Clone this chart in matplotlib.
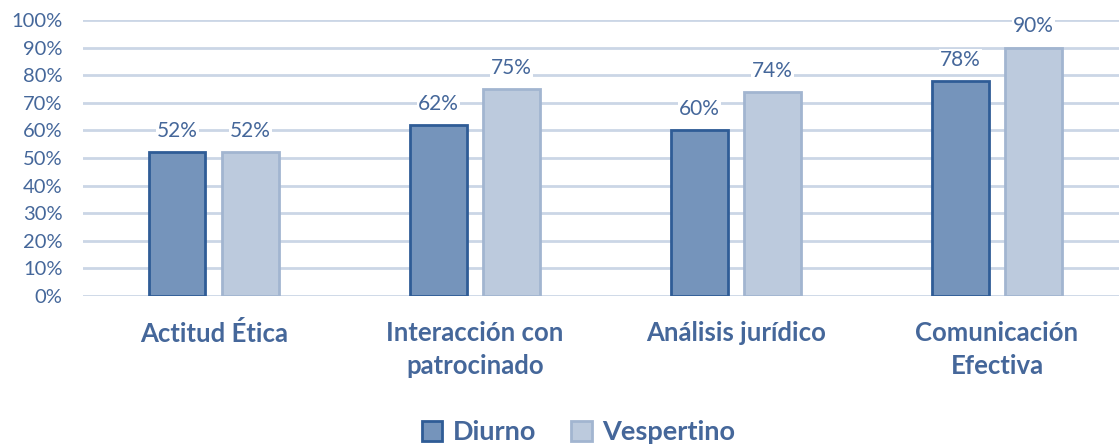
import matplotlib

matplotlib.use("Agg")

import matplotlib.pyplot as plt
import numpy as np
from matplotlib.patches import Patch
from matplotlib.ticker import FuncFormatter

categorias = ["Actitud Ética", "Interacción con\npatrocinado", "Análisis jurídico", "Comunicación\nEfectiva"]
diurno = [52, 62, 60, 78]
vespertino = [52, 75, 74, 90]
y_ticks = list(range(0, 101, 10))

TEXT_COLOR = "#45679A"
GRID_COLOR = "#CBD6E6"
DIURNO_FILL = "#7594BB"
DIURNO_EDGE = "#2F5C96"
VESP_FILL = "#BCCADD"
VESP_EDGE = "#A2B5D0"

plt.rcParams["font.family"] = ["Lato", "DejaVu Sans"]

fig = plt.figure(figsize=(11.19, 4.46), dpi=100)
fig.patch.set_facecolor("white")
ax = fig.add_axes([0.0746, 0.3363, 0.933, 0.619])

x = np.arange(len(categorias))
bar_width = 0.215
offset = 0.14

bars_d = ax.bar(x - offset, diurno, width=bar_width, color=DIURNO_FILL,
                edgecolor=DIURNO_EDGE, linewidth=2, zorder=3)
bars_v = ax.bar(x + offset, vespertino, width=bar_width, color=VESP_FILL,
                edgecolor=VESP_EDGE, linewidth=2, zorder=3)

for bars, values in ((bars_d, diurno), (bars_v, vespertino)):
    for bar, value in zip(bars, values):
        ax.annotate(
            f"{value}%",
            (bar.get_x() + bar.get_width() / 2, value),
            textcoords="offset points",
            xytext=(0, 8),
            ha="center",
            va="bottom",
            fontsize=15,
            color=TEXT_COLOR,
            zorder=4,
            bbox=dict(boxstyle="square,pad=0.05", facecolor="white", edgecolor="none"),
        )

ax.set_xlim(-0.5, len(categorias) - 0.5)
ax.set_ylim(0, 100)
ax.set_yticks(y_ticks)
ax.yaxis.set_major_formatter(FuncFormatter(lambda value, _: f"{value:.0f}%"))
ax.grid(axis="y", color=GRID_COLOR, linewidth=2, zorder=0)
ax.set_axisbelow(True)
for spine in ax.spines.values():
    spine.set_visible(False)
ax.tick_params(axis="y", length=0, pad=15, labelsize=14.5, labelcolor=TEXT_COLOR)
ax.tick_params(axis="x", length=0, pad=18)
ax.set_xticks(x)
ax.set_xticklabels(categorias, fontsize=18.5, fontweight="bold", color=TEXT_COLOR,
                   linespacing=1.45, va="top")

handles = [
    Patch(facecolor=DIURNO_FILL, edgecolor=DIURNO_EDGE, linewidth=2, label="Diurno"),
    Patch(facecolor=VESP_FILL, edgecolor=VESP_EDGE, linewidth=2, label="Vespertino"),
]
leg = fig.legend(handles=handles, loc="center", bbox_to_anchor=(0.517, 0.031), ncol=2,
                 frameon=False, handlelength=0.75, handleheight=0.75, handletextpad=0.4,
                 columnspacing=1.3, prop={"size": 19.5, "weight": "bold"})
for text in leg.get_texts():
    text.set_color(TEXT_COLOR)

fig.savefig("out.png", dpi=100, facecolor="white")
